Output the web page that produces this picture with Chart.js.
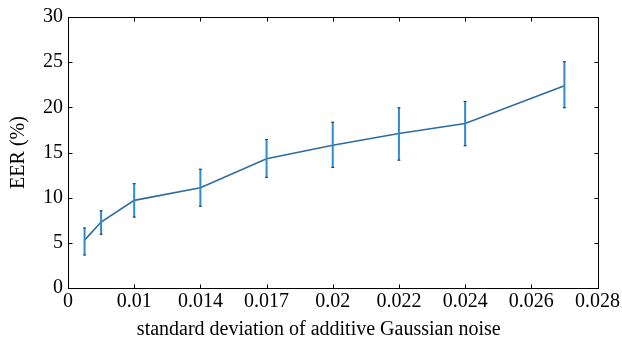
<!DOCTYPE html>
<html>
<head>
<meta charset="utf-8">
<script src="https://cdn.jsdelivr.net/npm/chart.js@4"></script>
<style>
html,body{margin:0;padding:0;background:#fff;}
#wrap{width:622px;height:341px;}
</style>
</head>
<body>
<div id="wrap"><canvas id="c" width="622" height="341"></canvas></div>
<script>
// tick labels of the x axis (evenly spaced on the axis)
const xTickLabels = ['0','0.01','0.014','0.017','0.02','0.022','0.024','0.026','0.028'];
// noise levels (std of additive Gaussian noise)
const noiseLevels = [0.0025, 0.005, 0.01, 0.014, 0.017, 0.02, 0.022, 0.024, 0.027];
// EER (%) means and error bounds
const eerMean  = [5.3, 7.3, 9.7, 11.1, 14.3, 15.8, 17.1, 18.2, 22.4];
const eerUpper = [6.7, 8.6, 11.6, 13.2, 16.5, 18.4, 20.0, 20.7, 25.1];
const eerLower = [3.6, 5.9, 7.8, 9.0, 12.2, 13.3, 14.1, 15.7, 19.9];
const yTicks = [0,5,10,15,20,25,30];
const xTitle = 'standard deviation of additive Gaussian noise';

// map a noise level onto the evenly spaced label axis (index units)
const tickVals = xTickLabels.map(Number);
function toAxis(v){
  for (let i=0;i<tickVals.length-1;i++){
    if (v>=tickVals[i] && v<=tickVals[i+1]) return i + (v-tickVals[i])/(tickVals[i+1]-tickVals[i]);
  }
  return tickVals.length-1;
}
const pts = noiseLevels.map((n,i)=>({x:toAxis(n), y:eerMean[i], hi:eerUpper[i], lo:eerLower[i]}));

const frameAndErr = {
  id:'frameAndErr',
  afterDatasetsDraw(chart){
    const {ctx, chartArea:a, scales:{x,y}} = chart;
    ctx.save();
    pts.forEach((p)=>{
      const px = x.getPixelForValue(p.x);
      const yh = y.getPixelForValue(p.hi), yl = y.getPixelForValue(p.lo);
      ctx.strokeStyle = '#2e8bd0';
      ctx.lineWidth = 2;
      ctx.beginPath(); ctx.moveTo(px,yh); ctx.lineTo(px,yl); ctx.stroke();
      ctx.strokeStyle = '#333';
      ctx.lineWidth = 1;
      ctx.beginPath();
      ctx.moveTo(px-1.5,yh+0.5); ctx.lineTo(px+1.5,yh+0.5);
      ctx.moveTo(px-1.5,yl-0.5); ctx.lineTo(px+1.5,yl-0.5);
      ctx.stroke();
    });
    ctx.strokeStyle = '#000';
    ctx.lineWidth = 1;
    const L=Math.round(a.left)+0.5, R=Math.round(a.right)+0.5, T=Math.round(a.top)+0.5, B=Math.round(a.bottom)+0.5;
    ctx.strokeRect(L,T,R-L,B-T);
    const tl = 4;
    ctx.beginPath();
    xTickLabels.forEach((_,i)=>{
      const px = Math.round(x.getPixelForValue(i))+0.5;
      ctx.moveTo(px,B); ctx.lineTo(px,B-tl);
      ctx.moveTo(px,T); ctx.lineTo(px,T+tl);
    });
    yTicks.forEach(v=>{
      const py = Math.round(y.getPixelForValue(v))+0.5;
      ctx.moveTo(L,py); ctx.lineTo(L+tl,py);
      ctx.moveTo(R,py); ctx.lineTo(R-tl,py);
    });
    ctx.stroke();
    // x axis title (slightly left of centre, as in the original)
    ctx.fillStyle = '#000';
    ctx.font = '20px "Liberation Serif"';
    ctx.textAlign = 'center';
    ctx.textBaseline = 'alphabetic';
    ctx.fillText(xTitle, (a.left + a.right)/2 - 14, x.bottom - 6);
    ctx.restore();
  }
};

new Chart(document.getElementById('c'), {
  type:'line',
  data:{datasets:[{
    data: pts,
    borderColor:'#2f6b9e',
    borderWidth:1.6,
    pointRadius:0,
    tension:0,
    fill:false
  }]},
  options:{
    responsive:false,
    animation:false,
    parsing:{xAxisKey:'x', yAxisKey:'y'},
    layout:{padding:{top:15, right:23, left:0, bottom:0}},
    plugins:{legend:{display:false}, tooltip:{enabled:false}},
    scales:{
      x:{
        type:'linear', min:0, max:xTickLabels.length-1,
        grid:{display:false, drawTicks:false},
        border:{display:false},
        ticks:{stepSize:1, padding:2, color:'#000', maxRotation:0, autoSkip:false,
          font:{family:'Liberation Serif', size:20},
          callback:(v)=>xTickLabels[v]},
        title:{display:false},
        afterFit(s){ s.height = 53; }
      },
      y:{
        min:0, max:30,
        grid:{display:false, drawTicks:false},
        border:{display:false},
        afterBuildTicks(s){ s.ticks = yTicks.map(v=>({value:v})); },
        ticks:{padding:5, color:'#000', font:{family:'Liberation Serif', size:20}},
        title:{display:true, text:'EER (%)', color:'#000',
          font:{family:'Liberation Serif', size:20}, padding:{top:7,bottom:0}},
        afterFit(s){ s.width = 68; }
      }
    }
  },
  plugins:[frameAndErr]
});
</script>
</body>
</html>
